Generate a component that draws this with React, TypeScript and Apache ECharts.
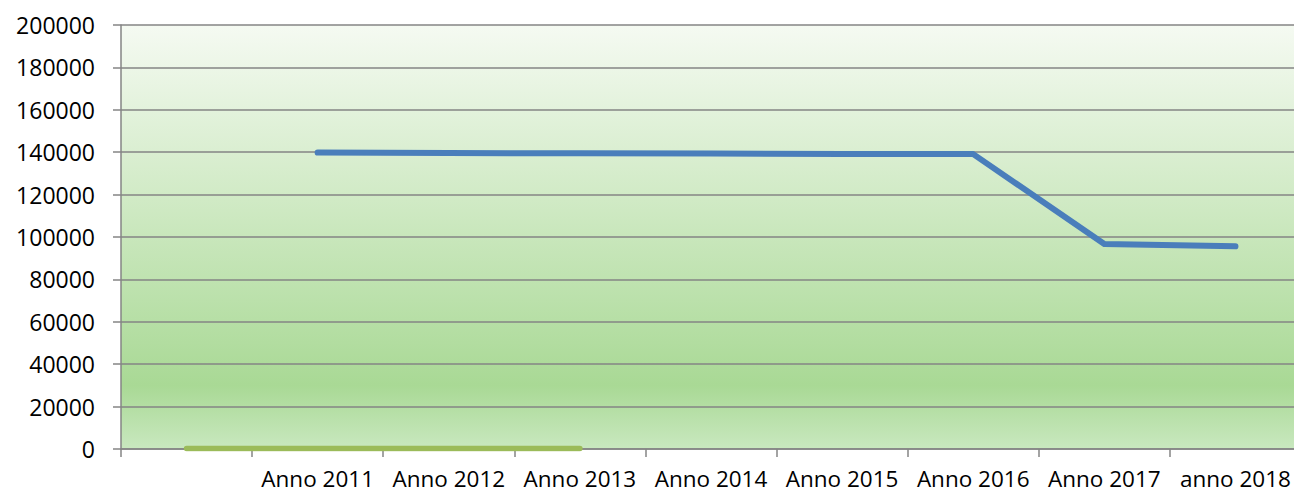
import React, { useEffect, useRef } from "react";
import * as echarts from "echarts";

const categories = ["", "Anno 2011", "Anno 2012", "Anno 2013", "Anno 2014", "Anno 2015", "Anno 2016", "Anno 2017", "anno 2018"];
const blueValues = [null, 139800, 139600, 139500, 139400, 139200, 139100, 96700, 95600];
const greenValues = [200, 200, 200, 200, null, null, null, null, null];
const yMin = 0;
const yMax = 200000;
const yInterval = 20000;

export default function App() {
  const ref = useRef<HTMLDivElement>(null);
  useEffect(() => {
    if (!ref.current) return;
    const chart = echarts.init(ref.current, null, { renderer: "svg" });
    const font = "'Open Sans', sans-serif";
    chart.setOption({
      animation: false,
      grid: {
        left: 121,
        right: 9,
        top: 25,
        bottom: 43,
        show: true,
        borderWidth: 0,
        backgroundColor: new echarts.graphic.LinearGradient(0, 0, 0, 1, [
          { offset: 0, color: "#f5faf2" },
          { offset: 0.85, color: "#a9d995" },
          { offset: 1, color: "#c9e8bf" },
        ]),
      },
      xAxis: {
        type: "category",
        data: categories,
        boundaryGap: true,
        axisLine: { show: true, lineStyle: { color: "#858585", width: 1.5 } },
        axisTick: { show: true, length: 8, lineStyle: { color: "#858585", width: 1.5 } },
        axisLabel: { interval: 0, margin: 20, lineHeight: 18, color: "#000000", fontSize: 22.5, fontFamily: font },
        splitLine: { show: false },
      },
      yAxis: {
        type: "value",
        min: yMin,
        max: yMax,
        interval: yInterval,
        axisLine: { show: true, lineStyle: { color: "#858585", width: 1.5 } },
        axisTick: { show: true, length: 8, lineStyle: { color: "#858585", width: 1.5 } },
        axisLabel: {
          margin: 26,
          color: "#000000",
          fontSize: 23,
          fontFamily: font,
          formatter: (v: number) => String(v),
        },
        splitLine: { show: true, lineStyle: { color: "#858585", width: 1.5 } },
      },
      series: [
        {
          type: "line",
          data: blueValues,
          symbol: "none",
          lineStyle: { color: "#4a7ebb", width: 6, cap: "round", join: "round" },
          itemStyle: { color: "#4a7ebb" },
        },
        {
          type: "line",
          data: greenValues,
          symbol: "none",
          lineStyle: { color: "#9bbb59", width: 5.5, cap: "round", join: "round" },
          itemStyle: { color: "#9bbb59" },
        },
      ],
    });
    return () => chart.dispose();
  }, []);
  return (
    <div style={{ position: "fixed", left: 0, top: 0, width: 1294, height: 492, overflow: "hidden", background: "#ffffff" }}>
      <div ref={ref} style={{ width: 1310, height: 492 }} />
    </div>
  );
}
